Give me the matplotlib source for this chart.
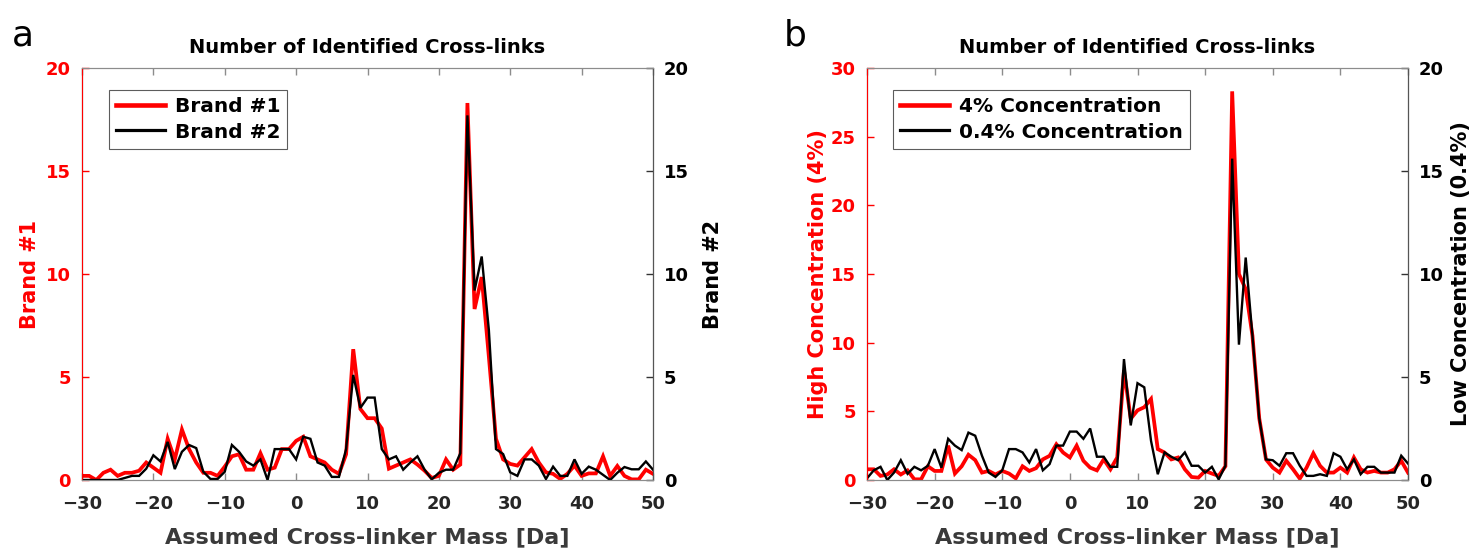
import matplotlib

matplotlib.use("Agg")
import matplotlib.pyplot as plt
import numpy as np

plt.rcParams["font.family"] = ["DejaVu Sans"]
plt.rcParams["font.weight"] = "bold"

MASS = np.arange(-30, 51)

# panel a
BRAND1 = [
    0.2, 0.2, 0.0, 0.35, 0.5, 0.2, 0.35, 0.35, 0.45, 0.85,
    0.6, 0.35, 2.0, 1.0, 2.45, 1.5, 0.85, 0.35, 0.35, 0.2,
    0.65, 1.15, 1.25, 0.5, 0.5, 1.3, 0.5, 0.6, 1.5, 1.5,
    1.9, 2.1, 1.15, 1.0, 0.85, 0.5, 0.3, 1.25, 6.35, 3.45,
    3.0, 3.0, 2.5, 0.55, 0.7, 0.85, 1.0, 0.75, 0.45, 0.1,
    0.2, 1.0, 0.5, 0.75, 18.3, 8.3, 9.85, 6.0, 2.0, 1.0,
    0.78, 0.7, 1.1, 1.5, 0.85, 0.37, 0.3, 0.05, 0.3, 0.7,
    0.2, 0.32, 0.32, 1.15, 0.2, 0.68, 0.2, 0.03, 0.03, 0.5,
    0.3,
]
BRAND2 = [
    0.0, 0.0, 0.0, 0.0, 0.0, 0.0, 0.1, 0.2, 0.2, 0.55,
    1.2, 0.9, 1.85, 0.53, 1.37, 1.7, 1.55, 0.4, 0.05, 0.05,
    0.4, 1.7, 1.37, 0.9, 0.7, 1.0, 0.0, 1.5, 1.5, 1.5,
    1.0, 2.1, 2.0, 0.85, 0.7, 0.15, 0.15, 1.5, 5.1, 3.5,
    4.0, 4.0, 1.5, 1.0, 1.15, 0.5, 0.85, 1.15, 0.5, 0.03,
    0.35, 0.5, 0.5, 1.3, 17.7, 9.2, 10.85, 7.3, 1.5, 1.26,
    0.37, 0.2, 1.0, 1.0, 0.7, 0.05, 0.65, 0.2, 0.2, 1.0,
    0.3, 0.65, 0.5, 0.25, 0.0, 0.35, 0.63, 0.52, 0.52, 0.9,
    0.5,
]

# panel b
HIGH_CONC = [
    0.78, 0.78, 0.3, 0.4, 0.78, 0.4, 0.7, 0.05, 0.05, 1.0,
    0.66, 0.66, 2.5, 0.47, 1.0, 1.84, 1.45, 0.54, 0.66, 0.4,
    0.66, 0.47, 0.12, 1.0, 0.66, 0.86, 1.5, 1.76, 2.6, 2.0,
    1.64, 2.5, 1.4, 0.9, 0.7, 1.5, 0.78, 1.64, 8.0, 4.46,
    5.07, 5.3, 5.9, 2.25, 2.0, 1.5, 1.64, 0.78, 0.22, 0.17,
    0.66, 0.47, 0.3, 1.0, 28.3, 15.0, 13.9, 10.5, 4.5, 1.5,
    0.9, 0.54, 1.4, 0.78, 0.1, 0.9, 1.94, 1.03, 0.54, 0.54,
    0.9, 0.54, 1.64, 0.78, 0.54, 0.66, 0.54, 0.54, 0.78, 1.4,
    0.54,
]
LOW_CONC = [
    0.08, 0.47, 0.64, 0.0, 0.36, 0.96, 0.3, 0.64, 0.47, 0.69,
    1.5, 0.6, 2.0, 1.67, 1.45, 2.3, 2.15, 1.18, 0.36, 0.15,
    0.47, 1.5, 1.5, 1.34, 0.85, 1.5, 0.47, 0.77, 1.67, 1.67,
    2.35, 2.35, 2.0, 2.5, 1.13, 1.13, 0.64, 0.64, 5.87, 2.65,
    4.7, 4.5, 1.9, 0.28, 1.34, 1.13, 0.96, 1.34, 0.69, 0.69,
    0.36, 0.64, 0.03, 0.69, 15.6, 6.57, 10.8, 7.0, 3.0, 1.0,
    0.96, 0.69, 1.3, 1.3, 0.69, 0.2, 0.2, 0.28, 0.2, 1.3,
    1.13, 0.52, 1.0, 0.28, 0.64, 0.64, 0.36, 0.36, 0.36, 1.18,
    0.8,
]

RED = "#ff0000"
GREY = "#8c8c8c"
DARK = "#262626"
FS_TICK = 13
FS_LAB = 15


def _panel(rect, red, black, left_lim, left_ticks, left_label, right_label,
           names, lpad, rpad):
    ax = fig.add_axes(rect)
    ax2 = ax.twinx()
    l1, = ax.plot(MASS, red, color=RED, lw=2.7, solid_joinstyle="miter")
    l2, = ax2.plot(MASS, black, color="black", lw=1.7, solid_joinstyle="miter")

    ax.set_xlim(-30, 50)
    ax.set_ylim(0, left_lim)
    ax2.set_ylim(0, 20)
    ax.set_xticks(range(-30, 51, 10))
    ax.set_yticks(left_ticks)
    ax2.set_yticks(range(0, 21, 5))

    ax.tick_params(axis="x", direction="in", top=True, length=5, width=1,
                   colors=GREY, labelcolor=DARK, labelsize=FS_TICK, pad=11)
    ax.tick_params(axis="y", direction="in", length=5, width=1,
                   colors=RED, labelsize=FS_TICK, pad=8)
    ax2.tick_params(axis="y", direction="in", length=5, width=1,
                    colors="#333333", labelcolor="black", labelsize=FS_TICK, pad=8)
    for t in ax.get_xticklabels() + ax.get_yticklabels() + ax2.get_yticklabels():
        t.set_fontweight("bold")

    for s in ("top", "bottom"):
        ax.spines[s].set_color(GREY)
        ax2.spines[s].set_color(GREY)
    ax2.spines["left"].set_color(RED)
    ax2.spines["right"].set_color("#555555")

    ax.set_title("Number of Identified Cross-links", fontsize=14,
                 fontweight="bold", pad=11)
    ax.set_xlabel("Assumed Cross-linker Mass [Da]", fontsize=16,
                  fontweight="bold", color="#3a3a3a", labelpad=10)
    ax.set_ylabel(left_label, fontsize=FS_LAB, fontweight="bold", color=RED,
                  labelpad=lpad)
    ax2.set_ylabel(right_label, fontsize=FS_LAB, fontweight="bold",
                   color="black", labelpad=rpad)

    leg = ax2.legend([l1, l2], names, loc="upper left",
                     bbox_to_anchor=(0.03, 0.97), fontsize=14.5, frameon=True,
                     fancybox=False, edgecolor="#333333", handlelength=2.4,
                     handletextpad=0.5, borderpad=0.35, labelspacing=0.3)
    leg.get_frame().set_linewidth(0.8)
    for t in leg.get_texts():
        t.set_fontweight("bold")
    for h in leg.get_lines():
        h.set_linewidth(h.get_linewidth() + 0.6)
    return ax


fig = plt.figure(figsize=(14.74, 5.54), dpi=100)

_panel([82 / 1474, 74 / 554, 571 / 1474, 412 / 554], BRAND1, BRAND2,
       20, range(0, 21, 5), "Brand #1", "Brand #2",
       ["Brand #1", "Brand #2"], 4, 10)
_panel([867 / 1474, 74 / 554, 541 / 1474, 412 / 554], HIGH_CONC, LOW_CONC,
       30, range(0, 31, 5), "High Concentration (4%)",
       "Low Concentration (0.4%)",
       ["4% Concentration", "0.4% Concentration"], 2, 5)

fig.text(12 / 1474, 1 - 36 / 554, "a", fontsize=26, fontweight="normal",
         va="center")
fig.text(784 / 1474, 1 - 36 / 554, "b", fontsize=26, fontweight="normal",
         va="center")

fig.savefig("out.png", dpi=100)
